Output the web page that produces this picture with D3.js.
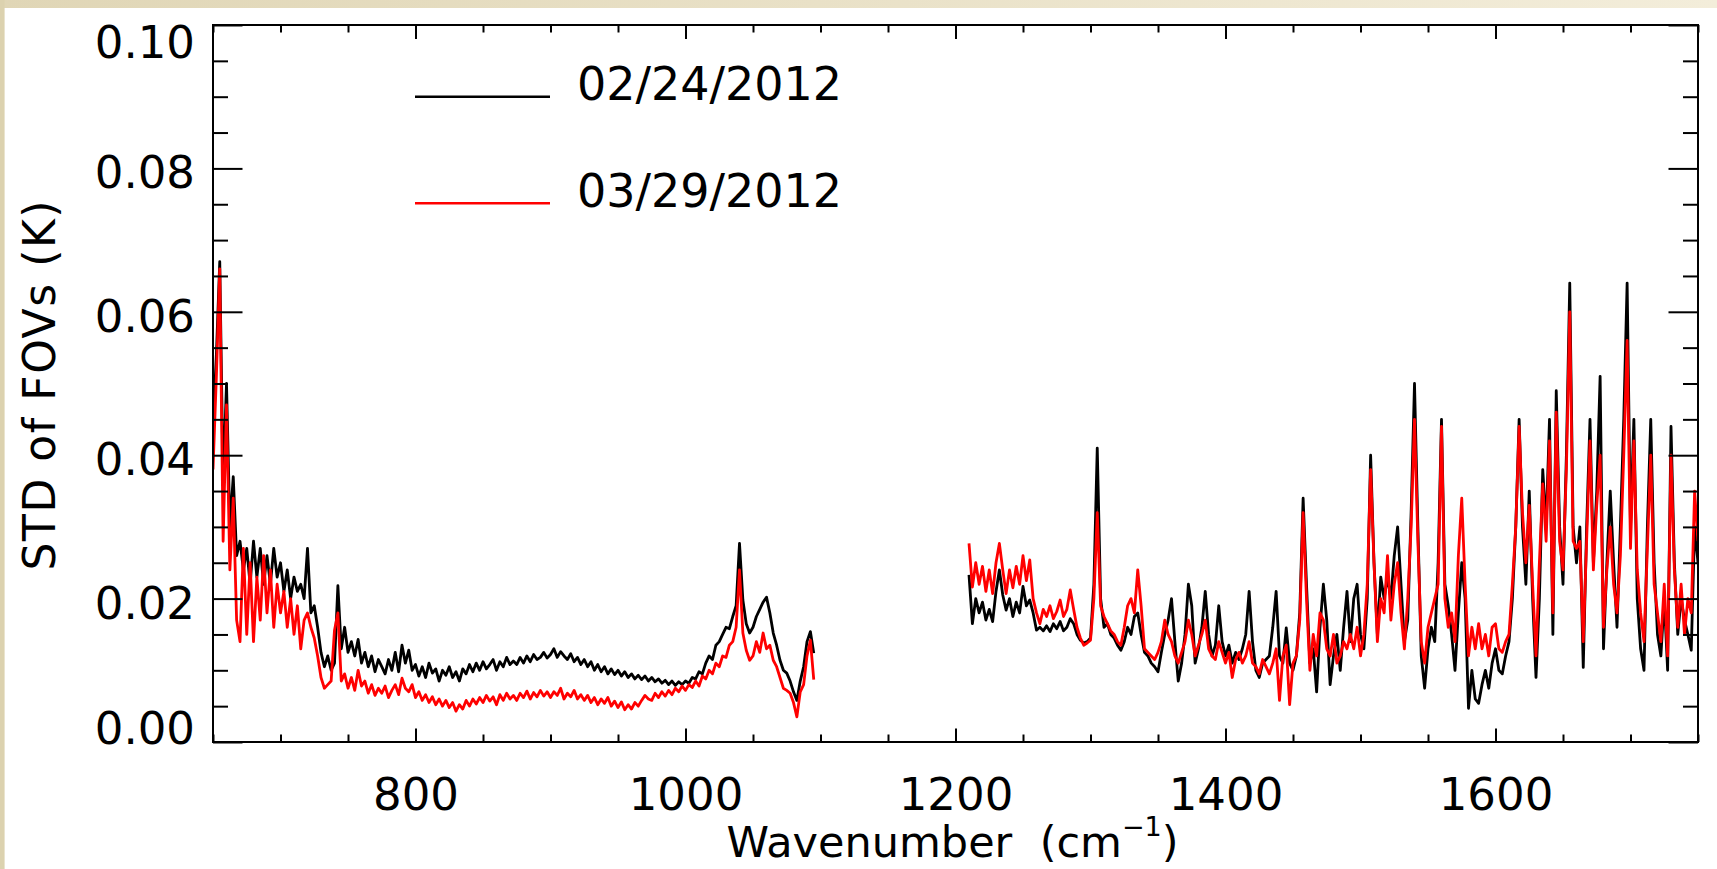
<!DOCTYPE html>
<html><head><meta charset="utf-8">
<script src="https://cdn.jsdelivr.net/npm/d3@7"></script>
<style>
html,body{margin:0;padding:0;background:#fff;overflow:hidden}
svg{display:block;font-family:"DejaVu Sans",sans-serif}
</style></head><body>
<svg id="chart" width="1717" height="869"></svg>
<script>
// ---------------- DATA ----------------
// Long-wave band (cm-1 grid 650..1095, 2.5 step)
const lwStart = 650, lwStep = 2.5;
const lwBlack = [
 0.044,0.054,0.067,0.036,0.050,0.030,0.037,0.026,0.028,0.024,
 0.027,0.022,0.028,0.023,0.027,0.022,0.026,0.022,0.027,0.023,
 0.025,0.021,0.024,0.020,0.023,0.021,0.022,0.020,0.027,0.018,
 0.019,0.016,0.0125,0.0105,0.012,0.010,0.011,0.0218,0.013,0.016,
 0.0125,0.014,0.012,0.0143,0.011,0.0125,0.0105,0.012,0.0098,0.0115,
 0.0105,0.0095,0.0115,0.010,0.0125,0.0098,0.0135,0.0110,0.0128,0.0100,
 0.0108,0.0092,0.0105,0.0090,0.0110,0.0096,0.0102,0.0085,0.0100,0.0093,
 0.0105,0.0090,0.0098,0.0085,0.0102,0.0095,0.0108,0.0098,0.0110,0.0100,
 0.0112,0.0102,0.0108,0.0115,0.0100,0.0112,0.0105,0.0118,0.0108,0.0113,
 0.0108,0.0118,0.0110,0.0120,0.0112,0.0122,0.0115,0.0118,0.0125,0.0117,
 0.0122,0.0130,0.0118,0.0126,0.0120,0.0115,0.0123,0.0112,0.0118,0.0108,
 0.0115,0.0105,0.0112,0.0100,0.0108,0.0098,0.0105,0.0095,0.0102,0.0094,
 0.0100,0.0092,0.0098,0.0090,0.0095,0.0088,0.0093,0.0087,0.0092,0.0085,
 0.0090,0.0084,0.0088,0.0082,0.0086,0.0080,0.0085,0.0079,0.0084,0.0080,
 0.0085,0.0082,0.0090,0.0088,0.0098,0.0095,0.0110,0.0120,0.0115,0.0135,
 0.0140,0.0150,0.0160,0.0158,0.0175,0.0190,0.0277,0.0198,0.0165,0.0152,
 0.0160,0.0175,0.0185,0.0195,0.0202,0.0180,0.0152,0.0135,0.0114,0.0100,
 0.0096,0.0085,0.0070,0.0058,0.0085,0.0105,0.0140,0.0154,0.0124
];
const lwRed = [
 0.038,0.051,0.066,0.028,0.047,0.024,0.034,0.017,0.014,0.027,
 0.015,0.025,0.014,0.023,0.017,0.026,0.018,0.024,0.016,0.022,
 0.018,0.021,0.016,0.020,0.015,0.019,0.013,0.017,0.018,0.016,
 0.0145,0.012,0.009,0.0075,0.008,0.0085,0.0156,0.018,0.0085,0.0095,
 0.0075,0.009,0.0072,0.0100,0.0078,0.0085,0.0068,0.0080,0.0065,0.0075,
 0.0068,0.0078,0.0062,0.0072,0.0080,0.0066,0.0089,0.0075,0.0070,0.0080,
 0.0062,0.0070,0.0058,0.0066,0.0055,0.0063,0.0052,0.0060,0.0050,0.0058,
 0.0048,0.0055,0.0043,0.0052,0.0046,0.0058,0.0050,0.0060,0.0053,0.0062,
 0.0055,0.0065,0.0057,0.0063,0.0052,0.0066,0.0058,0.0068,0.0060,0.0065,
 0.0058,0.0068,0.0062,0.0071,0.0060,0.0069,0.0063,0.0072,0.0064,0.0070,
 0.0062,0.0070,0.0065,0.0075,0.0060,0.0068,0.0063,0.0072,0.0060,0.0066,
 0.0058,0.0065,0.0055,0.0062,0.0052,0.0060,0.0054,0.0062,0.0050,0.0057,
 0.0048,0.0056,0.0045,0.0052,0.0046,0.0055,0.0050,0.0058,0.0065,0.0060,
 0.0058,0.0068,0.0062,0.0070,0.0064,0.0072,0.0066,0.0075,0.0070,0.0078,
 0.0072,0.0080,0.0076,0.0085,0.0078,0.0092,0.0088,0.0100,0.0095,0.0110,
 0.0105,0.0120,0.0118,0.0135,0.0140,0.0160,0.0240,0.0152,0.0128,0.0114,
 0.0120,0.0140,0.0125,0.0152,0.0130,0.0135,0.0114,0.0105,0.0090,0.0075,
 0.0072,0.0068,0.0055,0.0035,0.0070,0.0080,0.0120,0.0142,0.0087
];
// Mid-wave band (cm-1 grid 1210..1750, 2.5 step)
const mwStart = 1210, mwStep = 2.5;
const mwBlack = [
 0.0233,0.0165,0.020,0.018,0.0195,0.017,0.0185,0.0168,0.021,0.024,
 0.0205,0.0184,0.020,0.0175,0.0195,0.018,0.0217,0.019,0.0198,0.018,
 0.0156,0.016,0.0155,0.0162,0.0154,0.0165,0.0158,0.0168,0.0155,0.016,
 0.0172,0.0165,0.015,0.0142,0.0138,0.014,0.0145,0.022,0.041,0.020,
 0.016,0.0165,0.015,0.0145,0.0135,0.0128,0.014,0.016,0.015,0.0175,
 0.018,0.015,0.0125,0.012,0.011,0.0105,0.0098,0.0125,0.015,0.017,
 0.020,0.014,0.0085,0.011,0.015,0.022,0.019,0.011,0.013,0.016,
 0.021,0.015,0.012,0.0135,0.019,0.014,0.012,0.0135,0.011,0.0125,
 0.0115,0.013,0.015,0.021,0.014,0.010,0.009,0.011,0.0115,0.012,
 0.016,0.021,0.012,0.011,0.0159,0.011,0.010,0.012,0.018,0.034,
 0.022,0.011,0.013,0.007,0.016,0.022,0.017,0.008,0.012,0.015,
 0.010,0.016,0.021,0.014,0.020,0.022,0.015,0.013,0.020,0.040,
 0.025,0.015,0.023,0.020,0.023,0.020,0.026,0.030,0.022,0.014,
 0.017,0.032,0.050,0.030,0.012,0.0075,0.013,0.016,0.014,0.025,
 0.045,0.022,0.019,0.015,0.010,0.018,0.025,0.020,0.0047,0.010,
 0.006,0.0054,0.008,0.010,0.0075,0.011,0.013,0.010,0.0095,0.012,
 0.014,0.020,0.030,0.045,0.030,0.022,0.035,0.020,0.009,0.020,
 0.038,0.030,0.045,0.015,0.049,0.030,0.022,0.040,0.064,0.030,
 0.025,0.030,0.0104,0.030,0.045,0.025,0.035,0.051,0.013,0.025,
 0.035,0.025,0.016,0.030,0.045,0.064,0.030,0.045,0.020,0.013,
 0.010,0.030,0.045,0.025,0.015,0.012,0.020,0.010,0.044,0.025,
 0.015,0.020,0.017,0.015,0.0128,0.030,0.025
];
const mwRed = [
 0.0277,0.0216,0.025,0.022,0.0245,0.021,0.024,0.0207,0.025,0.0277,
 0.024,0.0207,0.024,0.0215,0.0245,0.022,0.026,0.0225,0.0254,0.020,
 0.018,0.0165,0.0185,0.0175,0.019,0.0172,0.0182,0.0198,0.0175,0.0185,
 0.0212,0.0185,0.016,0.0145,0.0135,0.0138,0.0142,0.020,0.032,0.019,
 0.0175,0.0165,0.0155,0.015,0.014,0.0135,0.016,0.019,0.020,0.018,
 0.024,0.019,0.013,0.0125,0.012,0.0115,0.0125,0.014,0.017,0.015,
 0.014,0.012,0.011,0.0125,0.014,0.017,0.015,0.012,0.0135,0.015,
 0.017,0.013,0.012,0.0115,0.014,0.0125,0.011,0.0125,0.009,0.0115,
 0.0125,0.011,0.012,0.014,0.011,0.0105,0.0095,0.0115,0.0105,0.0095,
 0.011,0.013,0.0058,0.012,0.0135,0.0052,0.011,0.012,0.017,0.032,
 0.020,0.010,0.015,0.012,0.018,0.017,0.013,0.012,0.015,0.011,
 0.012,0.014,0.013,0.015,0.013,0.016,0.012,0.015,0.022,0.038,
 0.025,0.014,0.020,0.018,0.026,0.017,0.022,0.025,0.018,0.013,
 0.020,0.030,0.045,0.028,0.014,0.011,0.016,0.018,0.020,0.022,
 0.044,0.020,0.016,0.018,0.014,0.026,0.034,0.022,0.012,0.016,
 0.013,0.0165,0.013,0.015,0.012,0.016,0.0165,0.013,0.0125,0.014,
 0.015,0.022,0.030,0.044,0.032,0.025,0.033,0.022,0.012,0.025,
 0.036,0.028,0.042,0.018,0.046,0.028,0.024,0.038,0.060,0.028,
 0.027,0.028,0.014,0.028,0.042,0.024,0.033,0.040,0.016,0.024,
 0.030,0.022,0.018,0.026,0.040,0.056,0.027,0.042,0.024,0.018,
 0.014,0.027,0.040,0.022,0.018,0.014,0.022,0.012,0.040,0.024,
 0.016,0.022,0.015,0.020,0.018,0.035,0.028
];
const legendLabels = ["02/24/2012", "03/29/2012"];
const seriesColors = ["#000000", "#ff0000"];
const xMajorTicks = [800, 1000, 1200, 1400, 1600];
const yMajorTicks = [0.00, 0.02, 0.04, 0.06, 0.08, 0.10];
const xDomain = [650, 1750];
const yDomain = [0, 0.10];

// ---------------- LAYOUT ----------------
const W = 1717, H = 869;
const L = 213, R = 1698, T = 25, B = 742;
const FONT = 45;
const svg = d3.select("#chart");

// background frame (beige bands)
const defs = svg.append("defs");
const grad = defs.append("linearGradient").attr("id", "band").attr("x1", "0").attr("x2", "1");
grad.append("stop").attr("offset", "0").attr("stop-color", "#e0d6b6");
grad.append("stop").attr("offset", "1").attr("stop-color", "#f3edda");
svg.append("rect").attr("width", W).attr("height", H).attr("fill", "#ffffff");
svg.append("rect").attr("x", 0).attr("y", 0).attr("width", W).attr("height", 8).attr("fill", "url(#band)");
svg.append("rect").attr("x", 0).attr("y", 0).attr("width", 4.6).attr("height", H).attr("fill", "#dcd2af");

const x = d3.scaleLinear().domain(xDomain).range([L, R]);
const y = d3.scaleLinear().domain(yDomain).range([B, T]);

// ---------------- DATA LINES ----------------
const toPts = (start, step, vals) => vals.map((v, i) => ({w: start + i * step, v}));
const line = d3.line().x(d => x(d.w)).y(d => y(d.v));
defs.append("clipPath").attr("id", "clip").append("rect")
  .attr("x", L).attr("y", T).attr("width", R - L).attr("height", B - T);
const gl = svg.append("g").attr("clip-path", "url(#clip)");
const seriesSets = [
  [toPts(lwStart, lwStep, lwBlack), toPts(mwStart, mwStep, mwBlack)],
  [toPts(lwStart, lwStep, lwRed), toPts(mwStart, mwStep, mwRed)]
];
seriesSets.forEach((segs, si) => {
  segs.forEach(seg => {
    gl.append("path").datum(seg).attr("d", line)
      .attr("fill", "none").attr("stroke", seriesColors[si])
      .attr("stroke-width", 2.8).attr("stroke-linejoin", "round");
  });
});

// ---------------- AXES ----------------
const xMinor = d3.range(xDomain[0], xDomain[1] + 1, 50).filter(v => !xMajorTicks.includes(v));
const yMinor = d3.range(0, 21).map(i => +(i * 0.005).toFixed(3)).filter(v => !yMajorTicks.some(m => Math.abs(m - v) < 1e-9));

function styleAxis(g) {
  g.select(".domain").remove();
  g.selectAll("line").attr("stroke", "#000").attr("stroke-width", 2);
  g.attr("font-family", "DejaVu Sans, sans-serif").attr("font-size", FONT);
  g.selectAll("text").attr("fill", "#000");
}
// bottom
svg.append("g").attr("transform", `translate(0,${B})`)
  .call(d3.axisBottom(x).tickValues(xMajorTicks).tickSize(-13.5).tickFormat(d3.format("d")))
  .call(styleAxis)
  .call(g => g.selectAll("text").attr("y", 68).attr("dy", 0));
svg.append("g").attr("transform", `translate(0,${B})`)
  .call(d3.axisBottom(x).tickValues(xMinor).tickSize(-7.5).tickFormat(""))
  .call(styleAxis);
// top
svg.append("g").attr("transform", `translate(0,${T})`)
  .call(d3.axisTop(x).tickValues(xMajorTicks).tickSize(-14).tickFormat(""))
  .call(styleAxis);
svg.append("g").attr("transform", `translate(0,${T})`)
  .call(d3.axisTop(x).tickValues(xMinor).tickSize(-7.5).tickFormat(""))
  .call(styleAxis);
// left
svg.append("g").attr("transform", `translate(${L},0)`)
  .call(d3.axisLeft(y).tickValues(yMajorTicks).tickSize(-29.5).tickPadding(18).tickFormat(d3.format(".2f")))
  .call(styleAxis)
  .call(g => g.selectAll("text").attr("dy", d => d >= 0.099 ? 32 : (d <= 0.001 ? 1 : 19.5)));
svg.append("g").attr("transform", `translate(${L},0)`)
  .call(d3.axisLeft(y).tickValues(yMinor).tickSize(-15).tickFormat(""))
  .call(styleAxis);
// right
svg.append("g").attr("transform", `translate(${R},0)`)
  .call(d3.axisRight(y).tickValues(yMajorTicks).tickSize(-29.5).tickFormat(""))
  .call(styleAxis);
svg.append("g").attr("transform", `translate(${R},0)`)
  .call(d3.axisRight(y).tickValues(yMinor).tickSize(-15).tickFormat(""))
  .call(styleAxis);
// frame
svg.append("rect").attr("x", L).attr("y", T).attr("width", R - L).attr("height", B - T)
  .attr("fill", "none").attr("stroke", "#000").attr("stroke-width", 2);

// ---------------- TITLES ----------------
const xt = svg.append("text").attr("x", (L + R) / 2 - 3).attr("y", 857)
  .attr("text-anchor", "middle").attr("font-size", 43).attr("fill", "#000")
  .style("white-space", "pre");
xt.append("tspan").text("Wavenumber  (cm");
xt.append("tspan").attr("font-size", 27).attr("dy", -21).text("\u22121");
xt.append("tspan").attr("dy", 21).text(")");

svg.append("text").attr("transform", `translate(55,${(T + B) / 2 + 2}) rotate(-90)`)
  .attr("text-anchor", "middle").attr("font-size", 44).attr("fill", "#000")
  .style("white-space", "pre")
  .attr("textLength", 370).attr("lengthAdjust", "spacing")
  .text("STD of FOVs (K)");

// ---------------- LEGEND ----------------
const legY = [96.7, 203.3];
const lg = svg.append("g");
legendLabels.forEach((lab, i) => {
  lg.append("line").attr("x1", 415).attr("x2", 550).attr("y1", legY[i]).attr("y2", legY[i])
    .attr("stroke", seriesColors[i]).attr("stroke-width", 2.5);
  lg.append("text").attr("x", 577).attr("y", legY[i] + 3.5).attr("font-size", 46)
    .attr("fill", "#000").text(lab);
});
</script>
</body></html>
